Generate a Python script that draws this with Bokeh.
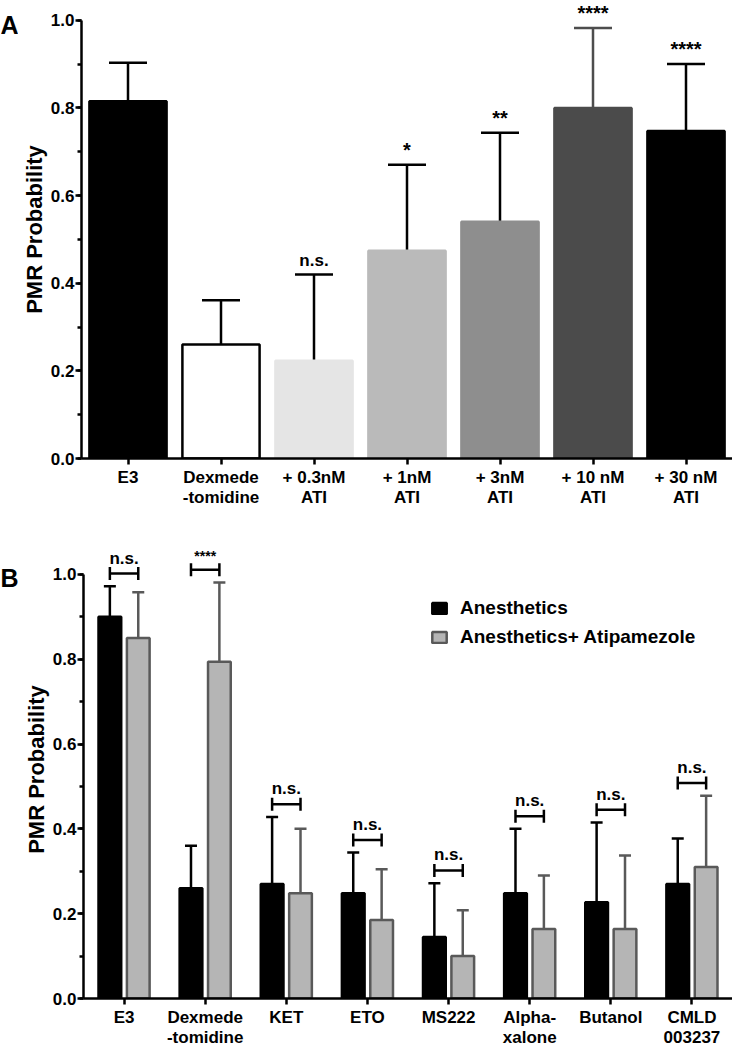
import numpy as np
from bokeh.plotting import figure
from bokeh.models import Range1d, FixedTicker, SingleIntervalTicker, NumeralTickFormatter
from bokeh.layouts import column, row
from bokeh.embed import file_html
from bokeh.resources import INLINE
from bokeh.core.properties import value

FONT = "Liberation Sans"

# ---------------- Panel A data ----------------
a_labels = ["E3", "Dexmede\n-tomidine", "+ 0.3nM\nATI", "+ 1nM\nATI",
            "+ 3nM\nATI", "+ 10 nM\nATI", "+ 30 nM\nATI"]
a_mean = [0.815, 0.26, 0.223, 0.474, 0.54, 0.80, 0.747]
a_upper = [0.903, 0.361, 0.42, 0.67, 0.743, 0.982, 0.90]
a_sig = ["", "", "n.s.", "*", "**", "****", "****"]
a_fill = ["#000000", "#ffffff", "#e5e5e5", "#bababa", "#8e8e8e", "#4b4b4b", "#000000"]
a_line = ["#000000", "#000000", "#e5e5e5", "#bababa", "#8e8e8e", "#4b4b4b", "#000000"]
a_err = ["#000000", "#000000", "#000000", "#000000", "#000000", "#4d4d4d", "#000000"]

# ---------------- Panel B data ----------------
b_labels = ["E3", "Dexmede\n-tomidine", "KET", "ETO", "MS222",
            "Alpha-\nxalone", "Butanol", "CMLD\n003237"]
b_anes_mean = [0.90, 0.26, 0.27, 0.248, 0.145, 0.248, 0.227, 0.27]
b_anes_upper = [0.972, 0.36, 0.428, 0.344, 0.272, 0.40, 0.415, 0.377]
b_ati_mean = [0.85, 0.794, 0.248, 0.185, 0.10, 0.164, 0.164, 0.31]
b_ati_upper = [0.958, 0.981, 0.40, 0.305, 0.208, 0.29, 0.337, 0.478]
b_sig = ["n.s.", "****", "n.s.", "n.s.", "n.s.", "n.s.", "n.s.", "n.s."]
series_names = ["Anesthetics", "Anesthetics+ Atipamezole"]
panel_letters = ["A", "B"]

LETTER_W = 18


def style(p, labels):
    n = len(labels)
    centers = [i + 0.5 for i in range(n)]
    p.outline_line_color = None
    p.xgrid.visible = False
    p.ygrid.visible = False
    for ax in (p.xaxis[0], p.yaxis[0]):
        ax.axis_line_width = 2.5
        ax.axis_line_color = "black"
        ax.major_tick_line_width = 2.5
        ax.minor_tick_line_width = 2.5
        ax.major_tick_in = 0
        ax.minor_tick_in = 0
        ax.major_label_text_font = FONT
        ax.major_label_text_font_style = "bold"
        ax.major_label_text_font_size = "17px"
        ax.major_label_text_color = "black"
    y = p.yaxis[0]
    y.ticker = SingleIntervalTicker(interval=0.2, num_minor_ticks=2)
    y.formatter = NumeralTickFormatter(format="0.0")
    y.bounds = (0, 1)
    y.major_tick_out = 6
    y.minor_tick_out = 4
    y.major_label_standoff = 1
    y.axis_label = "PMR Probability"
    y.axis_label_text_font = FONT
    y.axis_label_text_font_style = "bold"
    y.axis_label_text_font_size = "22px"
    y.axis_label_text_color = "black"
    y.axis_label_standoff = 1
    x = p.xaxis[0]
    x.ticker = FixedTicker(ticks=centers)
    x.major_label_overrides = {c: lab for c, lab in zip(centers, labels)}
    x.major_tick_out = 6
    x.major_label_standoff = 3
    x.major_label_text_line_height = 1.1
    return np.array(centers)


def letter_fig(letter, height, offset):
    f = figure(width=LETTER_W, height=height, x_range=Range1d(0, 1), y_range=Range1d(0, 1),
               output_backend="svg", toolbar_location=None, min_border=0)
    f.axis.visible = False
    f.grid.visible = False
    f.outline_line_color = None
    f.text(x=[0], y=[1], text=[letter], x_offset=0, y_offset=offset, text_align="left",
           text_baseline="top", text_font=value(FONT), text_font_style="bold",
           text_font_size="25px", text_color="black")
    return f


# ---------------- Figure A ----------------
pa = figure(width=732 - LETTER_W, height=525, x_range=Range1d(0, len(a_labels)),
            y_range=Range1d(0, 1.045), output_backend="svg", toolbar_location=None,
            min_border_left=81 - LETTER_W, min_border_right=0, min_border_top=0,
            min_border_bottom=67)
xa = style(pa, a_labels)
pa.segment(x0=xa, y0=a_mean, x1=xa, y1=a_upper, line_color=a_err, line_width=2.5)
pa.scatter(x=xa, y=a_upper, marker="dash", size=38, line_color=a_err, line_width=2.5)
pa.vbar(x=xa, top=a_mean, width=0.83, fill_color=a_fill, line_color=a_line, line_width=2.5)
a_sig_sizes = ["20px" if s.startswith("*") else "17px" for s in a_sig]
pa.text(x=xa, y=a_upper, text=a_sig, y_offset=-4, text_align="center",
        text_baseline="bottom", text_font=value(FONT), text_font_style="bold",
        text_font_size=a_sig_sizes, text_color="black")

# ---------------- Figure B ----------------
pb = figure(width=732 - LETTER_W, height=525, x_range=Range1d(0, len(b_labels)),
            y_range=Range1d(0, 1.08), output_backend="svg", toolbar_location=None,
            min_border_left=83 - LETTER_W, min_border_right=0, min_border_top=15,
            min_border_bottom=49)
xb = style(pb, b_labels)
off = 0.175
x_an = xb - off
x_at = xb + off
pb.segment(x0=x_an, y0=b_anes_mean, x1=x_an, y1=b_anes_upper, line_color="black", line_width=2.5)
pb.scatter(x=x_an, y=b_anes_upper, marker="dash", size=12, line_color="black", line_width=2.5)
pb.segment(x0=x_at, y0=b_ati_mean, x1=x_at, y1=b_ati_upper, line_color="#595959", line_width=2.5)
pb.scatter(x=x_at, y=b_ati_upper, marker="dash", size=12, line_color="#595959", line_width=2.5)
pb.vbar(x=x_an, top=b_anes_mean, width=0.28, fill_color="black", line_color="black",
        line_width=2.5, legend_label=series_names[0])
pb.vbar(x=x_at, top=b_ati_mean, width=0.28, fill_color="#b5b5b5", line_color="#595959",
        line_width=2.5, legend_label=series_names[1])

br_y = np.maximum(b_anes_upper, b_ati_upper) + 0.03
pb.segment(x0=x_an, y0=br_y, x1=x_at, y1=br_y, line_color="black", line_width=2.5)
pb.scatter(x=np.concatenate([x_an, x_at]), y=np.concatenate([br_y, br_y]), marker="dash",
           angle=np.pi / 2, size=13, line_color="black", line_width=2.5)
b_sig_sizes = ["14px" if s.startswith("*") else "17px" for s in b_sig]
pb.text(x=xb, y=br_y, text=b_sig, y_offset=-6, text_align="center", text_baseline="bottom",
        text_font=value(FONT), text_font_style="bold", text_font_size=b_sig_sizes,
        text_color="black")

leg = pb.legend[0]
leg.location = (347, 350)
leg.border_line_color = None
leg.background_fill_alpha = 0
leg.label_text_font = FONT
leg.label_text_font_style = "bold"
leg.label_text_font_size = "19px"
leg.label_text_color = "black"
leg.glyph_width = 18
leg.glyph_height = 14
leg.label_height = 20
leg.label_standoff = 12
leg.spacing = 7
leg.padding = 0
leg.margin = 0

la = letter_fig(panel_letters[0], 525, 10)
lb = letter_fig(panel_letters[1], 525, 23)

layout = column(row(la, pa, spacing=0), row(lb, pb, spacing=0), spacing=0)
open("out.html", "w").write(file_html(layout, INLINE))
